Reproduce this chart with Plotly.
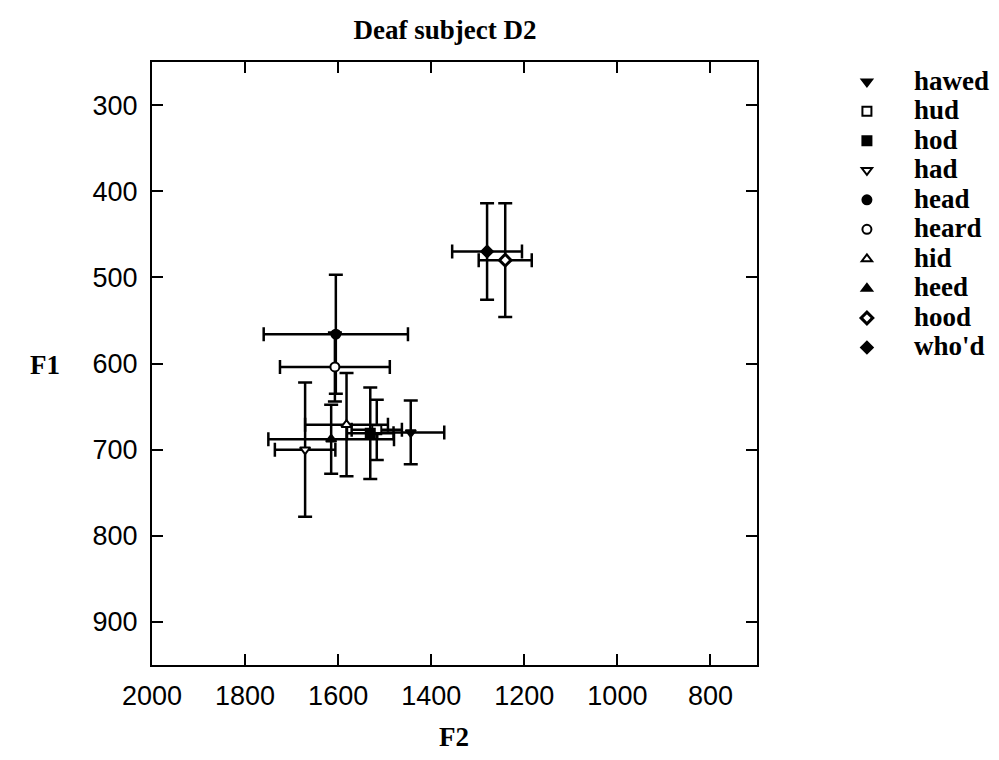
import plotly.graph_objects as go

# Vowel labels (legend order)
vowels = ["hawed", "hud", "hod", "had", "head", "heard", "hid", "heed", "hood", "who'd"]
# Mean formant values (Hz)
f2_mean = [1444, 1517, 1531, 1671, 1605, 1607, 1582, 1615, 1241, 1280]
f1_mean = [680, 677, 681, 700, 566, 604, 671, 688, 480, 470]
# Error bar half-lengths (Hz)
f2_err = [72, 54, 50, 65, 155, 118, 89, 135, 57, 75]
f1_err = [37, 35, 53, 78, 69, 40, 60, 40, 66, 56]

symbols = ["triangle-down", "square", "square", "triangle-down", "circle",
           "circle", "triangle-up", "triangle-up", "diamond", "diamond"]
filled = [True, False, True, False, True, False, False, True, False, True]

x_ticks = [2000, 1800, 1600, 1400, 1200, 1000, 800]
y_ticks = [300, 400, 500, 600, 700, 800, 900]

SERIF = "Liberation Serif, Times New Roman, serif"
SANS = "Liberation Sans, Arial, sans-serif"

fig = go.Figure()
for i, v in enumerate(vowels):
    fill = "black" if filled[i] else "white"
    lw = 3 if v == "hood" else 2
    fig.add_trace(go.Scatter(
        x=[f2_mean[i]], y=[f1_mean[i]], mode="markers",
        name='<span style="font-size:27px">' + v + "</span>",
        marker=dict(symbol=symbols[i], size=9, color=fill,
                    line=dict(color="black", width=lw)),
        error_x=dict(type="data", array=[f2_err[i]], symmetric=True,
                     color="black", thickness=2.5, width=7),
        error_y=dict(type="data", array=[f1_err[i]], symmetric=True,
                     color="black", thickness=2.5, width=7),
    ))

axis_common = dict(
    showline=True, linecolor="black", linewidth=2, mirror="ticks",
    ticks="inside", ticklen=11, tickwidth=2, tickcolor="black",
    showgrid=False, zeroline=False,
    tickfont=dict(family=SANS, size=27, color="black"),
)

L, R, T, B = 152, 242, 62, 95
plot_w = 999 - L - R
plot_h = 760 - T - B

fig.update_layout(
    width=999, height=760,
    margin=dict(l=L, r=R, t=T, b=B, autoexpand=False),
    paper_bgcolor="white", plot_bgcolor="white",
    title=dict(text="Deaf subject D2", x=(445 - L) / plot_w, xref="paper",
               xanchor="center", y=1 - 30 / 760, yanchor="middle",
               font=dict(family=SERIF, size=27, color="black", weight="bold")),
    xaxis=dict(range=[2000, 700], tickvals=x_ticks, ticklabelstandoff=6,
               **axis_common),
    yaxis=dict(range=[950, 250], tickvals=y_ticks, ticklabelstandoff=7,
               **axis_common),
    showlegend=True,
    legend=dict(x=1.104, xanchor="left", y=1.0, yanchor="top",
                font=dict(family=SERIF, size=20.4, color="black", weight="bold"),
                tracegroupgap=0, itemwidth=84, bgcolor="rgba(0,0,0,0)"),
    annotations=[
        dict(text="F2", x=(454 - L) / plot_w, xref="paper",
             y=(665 - 737) / plot_h, yref="paper", xanchor="center",
             yanchor="middle", showarrow=False,
             font=dict(family=SERIF, size=27, color="black", weight="bold")),
        dict(text="F1", x=(45 - L) / plot_w, xref="paper",
             y=(665 - 365) / plot_h, yref="paper", xanchor="center",
             yanchor="middle", showarrow=False,
             font=dict(family=SERIF, size=27, color="black", weight="bold")),
    ],
)

fig.write_html("out.html")
